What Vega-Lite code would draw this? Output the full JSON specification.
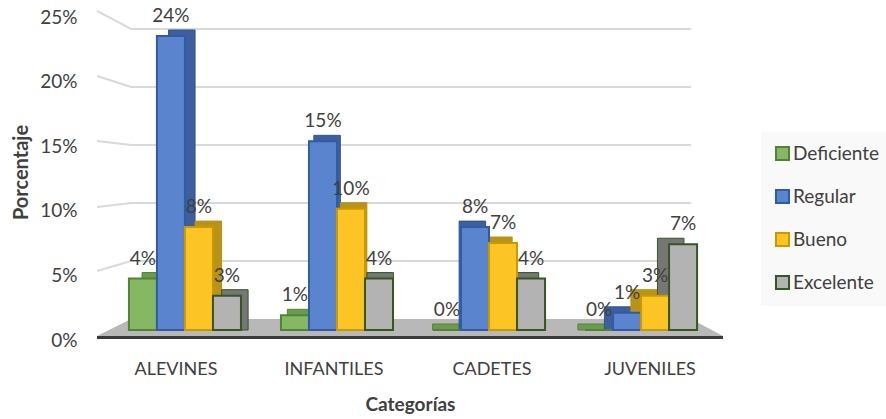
{
"$schema":"https://vega.github.io/schema/vega-lite/v6.json",
"autosize":{"type":"none"},
"padding":{"left":97,"top":17,"right":157,"bottom":79},
"width":632,"height":323,
"background":"white",
"config":{"view":{"stroke":null},"font":"Lato","text":{"font":"Lato"}},
"datasets":{
"bars":[
{"categoria":"ALEVINES","nivel":"Deficiente","valor":0.042},
{"categoria":"ALEVINES","nivel":"Regular","valor":0.24},
{"categoria":"ALEVINES","nivel":"Bueno","valor":0.084},
{"categoria":"ALEVINES","nivel":"Excelente","valor":0.028},
{"categoria":"INFANTILES","nivel":"Deficiente","valor":0.012},
{"categoria":"INFANTILES","nivel":"Regular","valor":0.154},
{"categoria":"INFANTILES","nivel":"Bueno","valor":0.099},
{"categoria":"INFANTILES","nivel":"Excelente","valor":0.042},
{"categoria":"CADETES","nivel":"Deficiente","valor":0},
{"categoria":"CADETES","nivel":"Regular","valor":0.084},
{"categoria":"CADETES","nivel":"Bueno","valor":0.071},
{"categoria":"CADETES","nivel":"Excelente","valor":0.042},
{"categoria":"JUVENILES","nivel":"Deficiente","valor":0},
{"categoria":"JUVENILES","nivel":"Regular","valor":0.014},
{"categoria":"JUVENILES","nivel":"Bueno","valor":0.028},
{"categoria":"JUVENILES","nivel":"Excelente","valor":0.07}
],
"floor":[
{"pos":0,"top":-1.47,"bottom":-1.47},
{"pos":5.4,"top":0,"bottom":-1.47},
{"pos":94,"top":0,"bottom":-1.47},
{"pos":99.05,"top":-1.47,"bottom":-1.47}
],
"grid":[
{"nivelGrid":25,"pos":0,"val":26.55},{"nivelGrid":25,"pos":5.4,"val":25},{"nivelGrid":25,"pos":94,"val":25},
{"nivelGrid":20,"pos":0,"val":20.95},{"nivelGrid":20,"pos":5.4,"val":20},{"nivelGrid":20,"pos":94,"val":20},
{"nivelGrid":15,"pos":0,"val":15.34},{"nivelGrid":15,"pos":5.4,"val":15},{"nivelGrid":15,"pos":94,"val":15},
{"nivelGrid":10,"pos":0,"val":9.66},{"nivelGrid":10,"pos":5.4,"val":10},{"nivelGrid":10,"pos":94,"val":10},
{"nivelGrid":5,"pos":0,"val":4.14},{"nivelGrid":5,"pos":5.4,"val":5},{"nivelGrid":5,"pos":94,"val":5}
],
"axisline":[{"pos":0,"val":-1.6},{"pos":99.05,"val":-1.6}],
"axisvals":[{"categoria":"ALEVINES","v":0},{"categoria":"INFANTILES","v":0},{"categoria":"CADETES","v":0},{"categoria":"JUVENILES","v":0.25}]
},
"resolve":{"scale":{"x":"independent","y":"independent","xOffset":"independent","fill":"independent","stroke":"independent"}},
"layer":[
{"data":{"name":"floor"},"mark":{"type":"area","color":"#b8b8b8"},
 "encoding":{"x":{"field":"pos","type":"quantitative","scale":{"domain":[0,100],"nice":false,"zero":false},"axis":null},
 "y":{"field":"top","type":"quantitative","scale":{"domain":[-1.81,26.03],"nice":false,"zero":false},"axis":null},
 "y2":{"field":"bottom"}}},
{"data":{"name":"grid"},"mark":{"type":"line","color":"#d9d9d9","strokeWidth":2},
 "encoding":{"x":{"field":"pos","type":"quantitative","scale":{"domain":[0,100],"nice":false,"zero":false},"axis":null},
 "y":{"field":"val","type":"quantitative","scale":{"domain":[-1.81,26.03],"nice":false,"zero":false},"axis":null},
 "detail":{"field":"nivelGrid"}}},
{"data":{"name":"axisline"},"mark":{"type":"line","color":"#3a3a3a","strokeWidth":3},
 "encoding":{"x":{"field":"pos","type":"quantitative","scale":{"domain":[0,100],"nice":false,"zero":false},"axis":null},
 "y":{"field":"val","type":"quantitative","scale":{"domain":[-1.81,26.03],"nice":false,"zero":false},"axis":null}}},
{"data":{"name":"bars"},
 "mark":{"type":"bar","yOffset":-6,"strokeWidth":1},
 "encoding":{"x":{"field":"categoria","type":"nominal","sort":["ALEVINES","INFANTILES","CADETES","JUVENILES"],"scale":{"domain":["ALEVINES","INFANTILES","CADETES","JUVENILES"],"paddingInner":0.27,"paddingOuter":0.31},"axis":null},
 "xOffset":{"field":"nivel","type":"nominal","scale":{"domain":["Deficiente","Regular","Bueno","Excelente"],"paddingInner":0,"paddingOuter":0}},
 "y":{"field":"valor","type":"quantitative","scale":{"domain":[-0.00816,0.2555],"nice":false,"zero":false},"axis":null},
 "y2":{"datum":0},
 "fill":{"field":"nivel","type":"nominal","scale":{"domain":["Deficiente","Regular","Bueno","Excelente"],"range":["#6b9c4c","#3e5f9c","#b8931c","#767676"]},"legend":null},
 "stroke":{"field":"nivel","type":"nominal","scale":{"domain":["Deficiente","Regular","Bueno","Excelente"],"range":["#548235","#2f5597","#bf9000","#375623"]},"legend":null}}},
{"data":{"name":"bars"},
 "mark":{"type":"bar","strokeWidth":2},
 "encoding":{"x":{"field":"categoria","type":"nominal","sort":["ALEVINES","INFANTILES","CADETES","JUVENILES"],"scale":{"domain":["ALEVINES","INFANTILES","CADETES","JUVENILES"],"paddingInner":0.263,"paddingOuter":0.21},"axis":null},
 "xOffset":{"field":"nivel","type":"nominal","scale":{"domain":["Deficiente","Regular","Bueno","Excelente"],"paddingInner":0,"paddingOuter":0}},
 "y":{"field":"valor","type":"quantitative","scale":{"domain":[-0.00816,0.2555],"nice":false,"zero":false},"axis":null},
 "fill":{"field":"nivel","type":"nominal","title":null,"scale":{"domain":["Deficiente","Regular","Bueno","Excelente"],"range":["#85b863","#5a84cd","#fcc424","#b3b3b3"]},
  "legend":{"orient":"none","legendX":664,"legendY":115,"title":null,"fillColor":"#f9f9f9","padding":12,"rowPadding":20,"symbolType":"square","symbolSize":170,"symbolStrokeWidth":2,"labelFontSize":19,"labelColor":"#404040","labelFont":"Lato","labelOffset":1}},
 "stroke":{"field":"nivel","type":"nominal","title":null,"scale":{"domain":["Deficiente","Regular","Bueno","Excelente"],"range":["#548235","#2f5ca8","#c99a00","#375623"]}}}},
{"data":{"name":"bars"},
 "mark":{"type":"text","fontSize":19,"color":"#404040","baseline":"middle","align":"center","dy":-20},
 "encoding":{"x":{"field":"categoria","type":"nominal","sort":["ALEVINES","INFANTILES","CADETES","JUVENILES"],"scale":{"domain":["ALEVINES","INFANTILES","CADETES","JUVENILES"],"paddingInner":0.263,"paddingOuter":0.21},"axis":null},
 "xOffset":{"field":"nivel","type":"nominal","scale":{"type":"point","padding":0.5,"domain":["Deficiente","Regular","Bueno","Excelente"]}},
 "y":{"field":"valor","type":"quantitative","scale":{"domain":[-0.00816,0.2555],"nice":false,"zero":false},"axis":null},
 "text":{"field":"valor","type":"quantitative","format":".0%"}}},
{"data":{"name":"axisvals"},
 "mark":{"type":"point","opacity":0},
 "encoding":{"x":{"field":"categoria","type":"nominal","sort":["ALEVINES","INFANTILES","CADETES","JUVENILES"],"scale":{"domain":["ALEVINES","INFANTILES","CADETES","JUVENILES"],"type":"band","padding":0},
  "axis":{"orient":"bottom","title":"Categorías","labelAngle":0,"domain":false,"ticks":false,"grid":false,"labelFontSize":18,"labelColor":"#404040","labelFont":"Lato","labelPadding":20,"titleFont":"Lato","titleFontSize":19,"titleFontWeight":"bold","titleColor":"#404040","titleX":313,"titleY":55}},
 "y":{"field":"v","type":"quantitative","scale":{"domain":[0,0.25],"nice":false},
  "axis":{"orient":"left","title":"Porcentaje","format":".0%","values":[0,0.05,0.1,0.15,0.2,0.25],"domain":false,"ticks":false,"grid":false,"labelFontSize":19,"labelColor":"#404040","labelFont":"Lato","labelPadding":20,"titleFont":"Lato","titleFontSize":20,"titleFontWeight":"bold","titleColor":"#404040","titleX":-66,"titleY":155}}}}
]
}
